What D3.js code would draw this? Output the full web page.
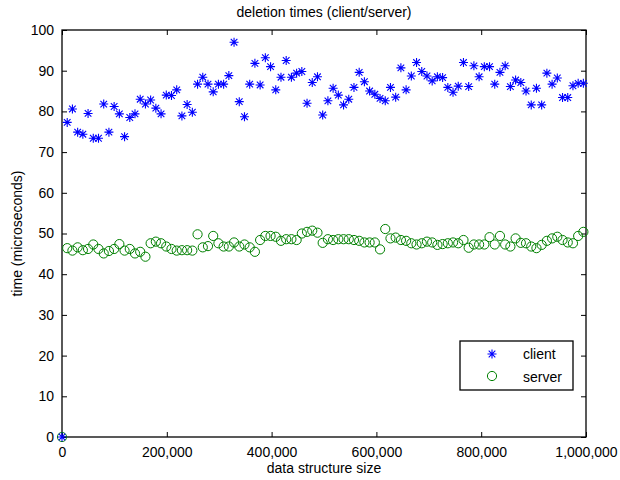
<!DOCTYPE html>
<html><head><meta charset="utf-8">
<script src="https://cdn.jsdelivr.net/npm/d3@7"></script>
<style>body{margin:0;background:#fff}text{font-family:"Liberation Sans",Arial,sans-serif}</style>
</head><body><svg id="c" width="620" height="480"></svg>
<script>
const step = 9950;
const client = [0,77.3,80.6,74.9,74.4,79.5,73.4,73.4,81.8,74.9,81.2,79.4,73.8,78.5,79.4,83.0,81.8,82.8,80.8,79.4,
84.0,83.9,85.3,78.9,81.7,79.8,86.7,88.4,86.7,84.8,86.7,86.7,88.8,97.0,82.4,78.7,86.7,91.8,86.5,93.2,
91.0,85.3,88.4,92.5,88.4,89.4,89.8,82.0,87.1,88.5,79.1,82.6,85.7,84.0,81.6,83.0,85.9,89.6,87.3,85.0,
84.2,83.2,82.6,85.9,83.5,90.7,85.3,88.7,92.0,89.8,88.7,87.5,88.5,88.3,85.9,84.7,86.2,92.0,86.1,91.2,
88.5,91.0,91.0,86.7,89.6,91.2,86.1,87.7,87.1,85.0,81.6,85.7,81.6,89.4,86.7,88.2,83.4,83.4,86.3,86.9,86.9];
const server = [0,46.4,45.8,46.6,45.9,46.2,47.3,46.2,45.1,45.7,46.2,47.4,45.8,46.2,45.1,45.5,44.3,47.6,48.0,47.6,
46.8,46.2,45.8,45.9,45.9,45.8,49.8,46.6,46.9,49.4,47.6,46.8,46.8,47.8,46.8,47.3,46.6,45.5,48.4,49.4,
49.4,49.2,48.2,48.6,48.6,48.4,50.0,50.4,50.7,50.2,47.7,48.6,48.4,48.6,48.6,48.6,48.4,48.2,47.8,47.8,
47.8,46.1,51.1,48.8,49.0,48.4,48.2,47.6,47.3,47.6,48.0,47.8,47.2,47.4,47.6,47.8,47.6,48.4,46.5,47.3,
47.3,47.3,49.1,47.3,49.4,47.3,46.8,48.8,47.7,47.6,46.8,46.4,47.2,48.2,48.8,49.2,48.4,47.8,47.6,49.4,50.4];
const sizes = client.map((d,i)=>i*step);
const xTicks = [0,200000,400000,600000,800000,1000000];
const yTicks = [0,10,20,30,40,50,60,70,80,90,100];
const seriesNames = ["client","server"];
const title = "deletion times (client/server)";
const xLabel = "data structure size";
const yLabel = "time (microseconds)";

const svg = d3.select("#c");
const L=62,R=586,T=30,B=437;
const x = d3.scaleLinear().domain([0,1000000]).range([L,R]);
const y = d3.scaleLinear().domain([0,100]).range([B,T]);
const fmt = d3.format(",");

// axes with inward ticks
const gx = svg.append("g").attr("transform",`translate(0,${B})`)
  .call(d3.axisBottom(x).tickValues(xTicks).tickSizeInner(-5).tickSizeOuter(0).tickPadding(10).tickFormat(fmt));
const gxt = svg.append("g").attr("transform",`translate(0,${T})`)
  .call(d3.axisTop(x).tickValues(xTicks).tickSizeInner(-5).tickSizeOuter(0).tickFormat(""));
const gy = svg.append("g").attr("transform",`translate(${L},0)`)
  .call(d3.axisLeft(y).tickValues(yTicks).tickSizeInner(-5).tickSizeOuter(0).tickPadding(8));
const gyr = svg.append("g").attr("transform",`translate(${R},0)`)
  .call(d3.axisRight(y).tickValues(yTicks).tickSizeInner(-5).tickSizeOuter(0).tickFormat(""));
[gx,gxt,gy,gyr].forEach(g=>{
  g.select(".domain").remove();
  g.selectAll(".tick line").attr("stroke","#000").attr("stroke-width",1);
  g.selectAll(".tick text").attr("fill","#000").attr("font-size",14);
});
gx.selectAll(".tick text").attr("dy","0.71em");
svg.append("rect").attr("x",L).attr("y",T).attr("width",R-L).attr("height",B-T)
  .attr("fill","none").attr("stroke","#000").attr("stroke-width",1.3);

function star(g, cx, cy, col){
  const a=4.5, b=3.3;
  const p = g.append("path").attr("d",
    `M${cx-a},${cy}H${cx+a}M${cx},${cy-a}V${cy+a}M${cx-b},${cy-b}L${cx+b},${cy+b}M${cx-b},${cy+b}L${cx+b},${cy-b}`)
    .attr("stroke",col).attr("stroke-width",1.1).attr("fill","none");
  return p;
}
const blue="#0000ff", green="#008000";
const gs = svg.append("g");
sizes.forEach((s,i)=>{ gs.append("circle").attr("cx",x(s)).attr("cy",y(server[i])).attr("r",4.6)
  .attr("fill","none").attr("stroke",green).attr("stroke-width",1); });
const gc = svg.append("g");
sizes.forEach((s,i)=>{ star(gc, x(s), y(client[i]), blue); });

// labels
svg.append("text").attr("x",(L+R)/2).attr("y",17).attr("text-anchor","middle").attr("font-size",14).text(title);
svg.append("text").attr("x",(L+R)/2).attr("y",473).attr("text-anchor","middle").attr("font-size",14).text(xLabel);
svg.append("text").attr("transform",`translate(22,${(T+B)/2}) rotate(-90)`).attr("text-anchor","middle").attr("font-size",14).text(yLabel);

// legend
const lg = svg.append("g");
lg.append("rect").attr("x",460).attr("y",341).attr("width",113).attr("height",49)
  .attr("fill","#fff").attr("stroke","#000").attr("stroke-width",1.3);
star(lg, 492, 354, blue);
lg.append("circle").attr("cx",492).attr("cy",376).attr("r",4.6).attr("fill","none").attr("stroke",green);
lg.append("text").attr("x",523).attr("y",359).attr("font-size",14).text(seriesNames[0]);
lg.append("text").attr("x",523).attr("y",382).attr("font-size",14).text(seriesNames[1]);
</script></body></html>
